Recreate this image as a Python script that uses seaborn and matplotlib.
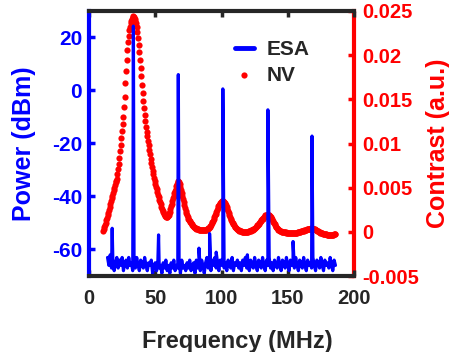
import numpy as np
import pandas as pd
import matplotlib
matplotlib.use('Agg')
import matplotlib.pyplot as plt
import seaborn as sns
from matplotlib.ticker import FuncFormatter

# ESA trace: noise floor sampled every 1 MHz from 14 MHz, plus the spikes (dBm)
esa_floor_start = 14.0
esa_floor = [
    -63, -66, -62, -67, -64, -68, -65, -63, -67, -64,
    -66, -63, -68, -65, -64, -67, -63, -66, -65, -68,
    -64, -67, -63, -66, -68, -64, -65, -67, -63, -66,
    -68, -65, -66, -64, -69, -66, -65, -68, -64, -67,
    -66, -69, -65, -67, -64, -68, -66, -69, -65, -67,
    -64, -68, -66, -67, -65, -69, -64, -67, -66, -68,
    -65, -67, -64, -68, -66, -65, -69, -64, -67, -66,
    -68, -64, -66, -69, -65, -63, -67, -66, -68, -64,
    -66, -63, -67, -65, -68, -64, -66, -63, -67, -65,
    -68, -64, -66, -67, -63, -68, -65, -66, -64, -67,
    -65, -68, -64, -66, -63, -67, -65, -68, -64, -66,
    -67, -63, -66, -68, -64, -65, -67, -63, -66, -68,
    -64, -66, -63, -67, -65, -68, -64, -66, -67, -63,
    -66, -68, -64, -65, -67, -63, -66, -68, -64, -66,
    -65, -67, -63, -66, -68, -64, -65, -67, -63, -66,
    -68, -64, -66, -65, -67, -63, -66, -68, -64, -65,
    -67, -63, -66, -68, -64, -66, -65, -67, -63, -66,
    -68, -64, -66,
]
esa_peak_freq = [17.5, 33.5, 52.5, 67.4, 83.0, 91.0, 96.0, 101.0, 119.5, 135.0, 154.0, 168.3]
esa_peak_power = [-52, 24.3, -54.5, 6.0, -59.5, -54, -61, 0.6, -62, -7.3, -57, -17.2]

# NV contrast (x1e-3), sampled every 0.5 MHz from 10.5 MHz
nv_start = 10.5
nv_step = 0.5
nv_contrast_milli = [
    0.1, 0.3, 0.5, 0.75, 1.0, 1.3, 1.55, 1.85, 2.15, 2.5,
    2.8, 3.1, 3.45, 3.8, 4.1, 4.4, 4.7, 5.0, 5.3, 5.6,
    5.8, 6.0, 6.5, 7.1, 7.7, 8.4, 9.1, 9.8, 10.6, 11.4,
    12.2, 13.0, 14.1, 15.3, 16.8, 18.2, 19.5, 20.6, 21.5, 22.2,
    22.8, 23.2, 23.6, 23.9, 24.1, 24.3, 24.4, 24.3, 24.1, 23.9,
    23.6, 23.2, 22.6, 22.0, 21.2, 20.4, 19.5, 18.6, 17.6, 16.6,
    15.7, 14.8, 14.0, 13.2, 12.5, 11.9, 11.3, 10.8, 10.3, 9.8,
    9.3, 8.8, 8.3, 7.8, 7.3, 6.9, 6.5, 6.1, 5.7, 5.4,
    5.1, 4.8, 4.5, 4.2, 3.9, 3.6, 3.35, 3.1, 2.85, 2.6,
    2.4, 2.2, 2.05, 1.9, 1.8, 1.7, 1.68, 1.7, 1.78, 1.9,
    2.1, 2.3, 2.6, 2.9, 3.2, 3.5, 3.8, 4.1, 4.35, 4.6,
    4.9, 5.2, 5.45, 5.65, 5.7, 5.6, 5.4, 5.1, 4.75, 4.4,
    4.05, 3.7, 3.35, 3.0, 2.7, 2.4, 2.15, 1.9, 1.7, 1.5,
    1.35, 1.2, 1.07, 0.95, 0.85, 0.75, 0.66, 0.58, 0.51, 0.45,
    0.41, 0.37, 0.33, 0.3, 0.27, 0.25, 0.23, 0.22, 0.21, 0.2,
    0.2, 0.2, 0.2, 0.2, 0.21, 0.22, 0.25, 0.28, 0.33, 0.4,
    0.47, 0.55, 0.67, 0.8, 0.95, 1.1, 1.27, 1.45, 1.65, 1.85,
    2.07, 2.3, 2.5, 2.7, 2.88, 3.05, 3.18, 3.3, 3.38, 3.45,
    3.48, 3.5, 3.47, 3.4, 3.3, 3.15, 3.0, 2.8, 2.58, 2.35,
    2.12, 1.9, 1.7, 1.5, 1.32, 1.15, 1.0, 0.85, 0.72, 0.6,
    0.5, 0.42, 0.35, 0.28, 0.23, 0.18, 0.14, 0.1, 0.07, 0.05,
    0.03, 0.02, 0.01, 0.0, 0.0, 0.0, 0.0, 0.0, 0.01, 0.02,
    0.04, 0.06, 0.09, 0.12, 0.16, 0.2, 0.25, 0.3, 0.36, 0.42,
    0.49, 0.56, 0.64, 0.72, 0.81, 0.9, 1.0, 1.1, 1.2, 1.3,
    1.4, 1.5, 1.6, 1.7, 1.78, 1.85, 1.9, 1.95, 1.96, 1.95,
    1.9, 1.85, 1.75, 1.65, 1.53, 1.4, 1.25, 1.1, 0.97, 0.85,
    0.72, 0.6, 0.5, 0.4, 0.32, 0.25, 0.18, 0.12, 0.08, 0.05,
    0.02, 0.0, -0.02, -0.04, -0.05, -0.06, -0.07, -0.08, -0.09, -0.1,
    -0.1, -0.1, -0.11, -0.12, -0.12, -0.12, -0.12, -0.12, -0.11, -0.1,
    -0.1, -0.1, -0.09, -0.08, -0.07, -0.05, -0.03, 0.0, 0.03, 0.05,
    0.08, 0.1, 0.12, 0.15, 0.18, 0.2, 0.22, 0.25, 0.28, 0.3,
    0.33, 0.35, 0.36, 0.37, 0.38, 0.38, 0.38, 0.37, 0.35, 0.33,
    0.29, 0.25, 0.2, 0.15, 0.1, 0.05, 0.0, -0.05, -0.09, -0.12,
    -0.15, -0.18, -0.2, -0.22, -0.24, -0.25, -0.28, -0.3, -0.31, -0.32,
    -0.34, -0.35, -0.35, -0.35, -0.35, -0.35, -0.34, -0.33, -0.32, -0.3,
    -0.3, -0.3,
]

x_ticks = [0, 50, 100, 150, 200]
power_ticks = [-60, -40, -20, 0, 20]
contrast_ticks = [-0.005, 0, 0.005, 0.01, 0.015, 0.02, 0.025]

esa = pd.DataFrame({
    'freq': np.concatenate([esa_floor_start + np.arange(len(esa_floor)), esa_peak_freq]),
    'power': np.concatenate([esa_floor, esa_peak_power]),
}).sort_values('freq')
nv = pd.DataFrame({
    'freq': nv_start + nv_step * np.arange(len(nv_contrast_milli)),
    'contrast': np.array(nv_contrast_milli) * 1e-3,
})

sns.set_style('white')
plt.rcParams['font.family'] = ['Liberation Sans', 'DejaVu Sans']
plt.rcParams['font.weight'] = 'bold'
plt.rcParams['axes.unicode_minus'] = False

dark = '#262626'
fig = plt.figure(figsize=(4.49, 3.52), dpi=100)
ax = fig.add_axes([89/449, 1 - 276/352, 265/449, 265/352])
ax2 = ax.twinx()

sns.scatterplot(data=nv, x='freq', y='contrast', ax=ax2, color='red', s=20,
                linewidth=0, label='NV', legend=False)
sns.lineplot(data=esa, x='freq', y='power', ax=ax, color='blue', lw=2.3,
             estimator=None, sort=True, label='ESA', legend=False)

# ESA drawn above the NV dots
ax.set_zorder(ax2.get_zorder() + 1)
ax.patch.set_visible(False)

ax.set_xlim(0, 200)
ax.set_ylim(-70, 30)
ax2.set_ylim(-0.005, 0.025)
ax.set_xticks(x_ticks)
ax.set_yticks(power_ticks)
ax2.set_yticks(contrast_ticks)
ax2.yaxis.set_major_formatter(FuncFormatter(lambda v, p: f'{round(v, 4) + 0.0:g}'))

ax.tick_params(axis='x', colors=dark, direction='in', top=True, bottom=True,
               length=4, width=2.5, labelsize=14.5, pad=9)
ax.tick_params(axis='y', colors='blue', direction='in', left=True, right=False,
               length=4, width=2.5, labelsize=15, pad=5)
ax2.tick_params(axis='y', colors='red', direction='in', right=True,
                length=4, width=2.5, labelsize=14.5, pad=6)

for side in ['top', 'bottom']:
    ax.spines[side].set_color(dark)
    ax.spines[side].set_linewidth(3)
    ax2.spines[side].set_visible(False)
ax.spines['left'].set_color('blue')
ax.spines['left'].set_linewidth(3)
ax.spines['right'].set_visible(False)
ax2.spines['left'].set_visible(False)
ax2.spines['right'].set_color('red')
ax2.spines['right'].set_linewidth(3)

ax.set_xlabel('Frequency (MHz)', fontsize=17, fontweight='bold', color=dark)
ax.set_ylabel('Power (dBm)', fontsize=18, fontweight='bold', color='blue')
ax2.set_ylabel('Contrast (a.u.)', fontsize=18, fontweight='bold', color='red')
ax.xaxis.set_label_coords(0.56, -0.205)
ax.yaxis.set_label_coords(-0.2, 0.5)
ax2.yaxis.set_label_coords(1.272, 0.5)

handles = [ax.get_lines()[0], ax2.collections[0]]
leg = ax.legend(handles, ['ESA', 'NV'], loc='upper left', bbox_to_anchor=(0.48, 0.96),
                frameon=False, prop={'weight': 'bold', 'size': 15},
                handlelength=0.9, handletextpad=0.6, labelspacing=0.3)
leg.legend_handles[0].set_linewidth(3.5)

fig.savefig('out.png', dpi=100)
